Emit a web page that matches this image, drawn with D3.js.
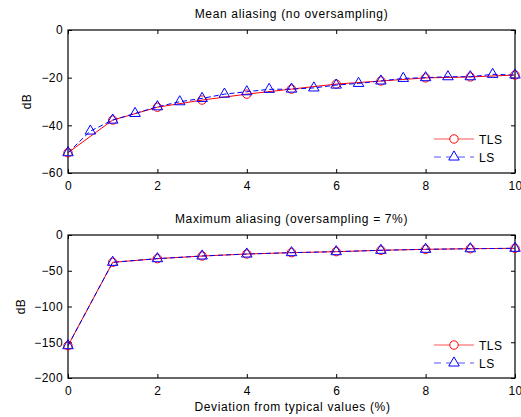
<!DOCTYPE html>
<html><head><meta charset="utf-8">
<script src="https://cdn.jsdelivr.net/npm/d3@7"></script>
<style>body{margin:0;background:#fff;} text{font-family:"Liberation Sans",Arial,sans-serif;}</style>
</head><body><svg id="c" width="521" height="417"></svg>
<script>
const topTitle = "Mean aliasing (no oversampling)";
const botTitle = "Maximum aliasing (oversampling = 7%)";
const xLabel = "Deviation from typical values (%)";
const yLabel = "dB";
const seriesNames = ["TLS", "LS"];

const xTicks = [0, 2, 4, 6, 8, 10];
const topYTicks = [0, -20, -40, -60];
const botYTicks = [0, -50, -100, -150, -200];

const topTLSx = [0,1,2,3,4,5,6,7,8,9,10];
const topTLSy = [-51.5,-37.8,-32.4,-29.4,-26.9,-24.8,-22.7,-21.4,-20.1,-19.7,-18.9];
const topLSx = [0,0.5,1,1.5,2,2.5,3,3.5,4,4.5,5,5.5,6,6.5,7,7.5,8,8.5,9,9.5,10];
const topLSy = [-51.5,-42.4,-37.8,-35.0,-32.2,-30.1,-28.7,-26.9,-25.9,-24.9,-24.8,-24.3,-23.1,-22.4,-21.4,-20.3,-20.0,-19.6,-19.6,-18.6,-18.9];

const botX = [0,1,2,3,4,5,6,7,8,9,10];
const botTLSy = [-154.8,-38.2,-33.1,-29.4,-26.6,-24.7,-23.3,-21.4,-20.0,-19.2,-18.6];
const botLSy = [-154.8,-38.2,-33.1,-29.4,-26.6,-24.7,-23.3,-21.4,-20.0,-19.2,-18.6];

const svg = d3.select("#c");
const L = 68, R = 515;
const fmt = d => d < 0 ? "\u2212" + Math.abs(d) : String(d);

function panel(top, bottom, ydom, yticks, title, tls, ls, legY, ylabX) {
  const x = d3.scaleLinear().domain([0,10]).range([L,R]);
  const y = d3.scaleLinear().domain(ydom).range([bottom, top]);
  const g = svg.append("g");
  const ax = d3.axisBottom(x).tickValues(xTicks).tickSize(-4).tickPadding(8).tickFormat(fmt);
  g.append("g").attr("transform",`translate(0,${bottom})`).call(ax);
  g.append("g").attr("transform",`translate(0,${top})`).call(d3.axisTop(x).tickValues(xTicks).tickSize(-4).tickFormat(""));
  g.append("g").attr("transform",`translate(${L},0)`).call(d3.axisLeft(y).tickValues(yticks).tickSize(-4).tickPadding(5).tickFormat(fmt));
  g.append("g").attr("transform",`translate(${R},0)`).call(d3.axisRight(y).tickValues(yticks).tickSize(-4).tickFormat(""));
  g.selectAll(".domain").remove();
  g.selectAll(".tick line").attr("stroke","#000");
  g.selectAll(".tick text").attr("font-size",12).attr("fill","#000").attr("letter-spacing",0.4)
    .style("font-family","Liberation Sans, Arial, sans-serif");
  g.append("rect").attr("x",L).attr("y",top).attr("width",R-L).attr("height",bottom-top)
    .attr("fill","none").attr("stroke","#000").attr("stroke-width",1.2);
  g.append("text").attr("x",(L+R)/2).attr("y",top-12).attr("text-anchor","middle").attr("font-size",12)
    .attr("letter-spacing",0.65).text(title);
  g.append("text").attr("transform",`translate(${ylabX},${(top+bottom)/2}) rotate(-90)`).attr("text-anchor","middle")
    .attr("font-size",12).attr("letter-spacing",0.5).text(yLabel);

  const line = d3.line().x(d=>x(d[0])).y(d=>y(d[1]));
  g.append("path").datum(tls).attr("d",line).attr("fill","none").attr("stroke","#ff0000").attr("stroke-width",1);
  g.append("path").datum(ls).attr("d",line).attr("fill","none").attr("stroke","#0000ff").attr("stroke-width",1).attr("stroke-dasharray","5,3");
  g.selectAll(".c").data(tls).join("circle").attr("cx",d=>x(d[0])).attr("cy",d=>y(d[1])).attr("r",4.2)
    .attr("fill","none").attr("stroke","#ff0000").attr("stroke-width",1);
  const tri = d3.symbol().type(d3.symbolTriangle).size(48);
  g.selectAll(".t").data(ls).join("path").attr("d",tri).attr("transform",d=>`translate(${x(d[0])},${y(d[1])})`)
    .attr("fill","none").attr("stroke","#0000ff").attr("stroke-width",1);

  const lx0 = 434, lx1 = 474, lm = 454;
  const lg = svg.append("g");
  lg.append("line").attr("x1",lx0).attr("x2",lx1).attr("y1",legY).attr("y2",legY).attr("stroke","#ff5555").attr("stroke-width",1);
  lg.append("circle").attr("cx",lm).attr("cy",legY).attr("r",4.2).attr("fill","white").attr("stroke","#ff0000");
  lg.append("text").attr("x",479).attr("y",legY+4.5).attr("font-size",12).attr("letter-spacing",0.5).text(seriesNames[0]);
  const l2 = legY + 18;
  lg.append("line").attr("x1",lx0).attr("x2",lx1).attr("y1",l2).attr("y2",l2).attr("stroke","#5555ff").attr("stroke-width",1).attr("stroke-dasharray","7,5");
  lg.append("path").attr("d",tri).attr("transform",`translate(${lm},${l2})`).attr("fill","white").attr("stroke","#0000ff");
  lg.append("text").attr("x",479).attr("y",l2+4.5).attr("font-size",12).attr("letter-spacing",0.5).text(seriesNames[1]);
}

panel(30, 173, [-60,0], topYTicks, topTitle,
  topTLSx.map((v,i)=>[v, topTLSy[i]]), topLSx.map((v,i)=>[v, topLSy[i]]), 139, 31);
panel(235, 378, [-200,0], botYTicks, botTitle,
  botX.map((v,i)=>[v, botTLSy[i]]), botX.map((v,i)=>[v, botLSy[i]]), 345, 25);

svg.append("text").attr("x",(L+R)/2+1).attr("y",411).attr("text-anchor","middle").attr("font-size",12)
  .attr("letter-spacing",0.65).text(xLabel);
</script></body></html>
